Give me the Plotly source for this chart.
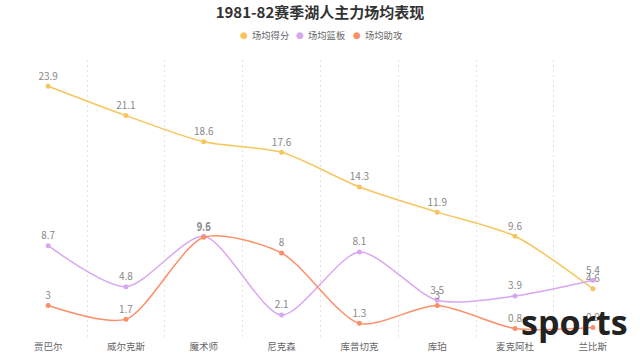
import plotly.graph_objects as go

players = ["贾巴尔", "威尔克斯", "魔术师", "尼克森", "库普切克", "库珀", "麦克阿杜", "兰比斯"]
points = [23.9, 21.1, 18.6, 17.6, 14.3, 11.9, 9.6, 4.6]
rebounds = [8.7, 4.8, 9.6, 2.1, 8.1, 3.5, 3.9, 5.4]
assists = [3, 1.7, 9.5, 8, 1.3, 3, 0.8, 0.9]

series = [
    ("场均得分", points, "#f6c65e"),
    ("场均篮板", rebounds, "#d9a7f0"),
    ("场均助攻", assists, "#fb8f68"),
]

font = "Noto Sans CJK SC"
W, H = 640, 353
ML, MR, MT, MB = 10, 9, 60, 16
PW, PH = W - ML - MR, H - MT - MB


def px_x(px):
    return (px - ML) / PW


def px_y(py):
    return (H - MB - py) / PH


fig = go.Figure()
for name, vals, color in series:
    fig.add_trace(go.Scatter(
        x=players, y=vals, name=name, mode="lines+markers+text",
        line=dict(color=color, width=1.5, shape="spline", smoothing=0.75),
        marker=dict(color=color, size=5),
        text=[f"{v:g}" for v in vals], textposition="top center",
        textfont=dict(family=font, size=10, color="#888888"),
        showlegend=False, cliponaxis=False,
    ))

# compact legend drawn as annotations (marker glyph + label)
legend_x0 = 244
legend_step = 56.3
annotations = []
for i, (name, vals, color) in enumerate(series):
    cx = legend_x0 + i * legend_step
    annotations.append(dict(text="●", x=px_x(cx), y=px_y(35), xref="paper", yref="paper",
                            xanchor="center", yanchor="middle", showarrow=False,
                            font=dict(family="DejaVu Sans", size=9, color=color)))
    annotations.append(dict(text=name, x=px_x(cx + 6), y=px_y(35.3), xref="paper",
                            yref="paper", xanchor="left", yanchor="middle", showarrow=False,
                            font=dict(family=font, size=9.3, color="#666666")))
annotations.append(dict(text="<b>sports</b>", x=px_x(574), y=px_y(322), xref="paper",
                        yref="paper", xanchor="center", yanchor="middle", showarrow=False,
                        font=dict(family="Open Sans", size=34, color="#222222")))

fig.update_layout(
    width=W, height=H,
    margin=dict(l=ML, r=MR, t=MT, b=MB),
    paper_bgcolor="white", plot_bgcolor="white",
    showlegend=False,
    title=dict(text="<b>1981-82赛季湖人主力场均表现</b>", x=0.5, xanchor="center",
               y=1 - 13 / H, yanchor="middle",
               font=dict(family=font, size=15, color="#333333")),
    xaxis=dict(type="category", tickson="boundaries", range=[-0.49, 7.49],
               showgrid=True, gridcolor="#e3e3e3", griddash="2px,3px", gridwidth=1,
               showline=False, zeroline=False, ticks="", automargin=False,
               ticklabelstandoff=2,
               tickfont=dict(family=font, size=9.5, color="#666666")),
    yaxis=dict(range=[0, 26.4], showgrid=False, showticklabels=False,
               zeroline=False, showline=False, automargin=False),
    annotations=annotations,
)

fig.write_html("out.html")
